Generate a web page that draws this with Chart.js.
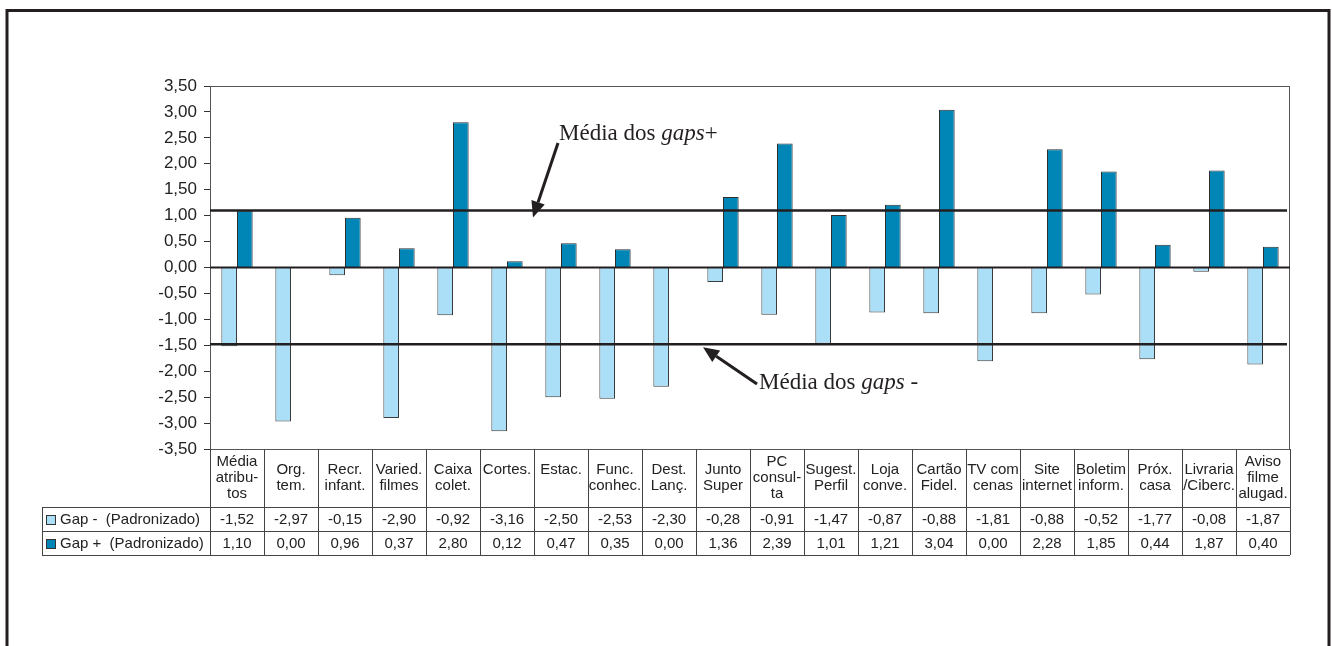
<!DOCTYPE html>
<html>
<head>
<meta charset="utf-8">
<script src="https://cdn.jsdelivr.net/npm/chart.js@4"></script>
<style>
  body { margin: 0; background: #fff; }
  canvas { display: block; }
</style>
</head>
<body>
<canvas id="gapChart" width="1332" height="646"></canvas>
<script>
// atributos (rótulos da tabela, com quebras de linha)
const categorias = [
    ['Média', 'atribu-', 'tos'], ['Org.', 'tem.'], ['Recr.', 'infant.'], ['Varied.', 'filmes'],
    ['Caixa', 'colet.'], ['Cortes.'], ['Estac.'], ['Func.', 'conhec.'], ['Dest.', 'Lanç.'],
    ['Junto', 'Super'], ['PC', 'consul-', 'ta'], ['Sugest.', 'Perfil'], ['Loja', 'conve.'],
    ['Cartão', 'Fidel.'], ['TV com', 'cenas'], ['Site', 'internet'], ['Boletim', 'inform.'],
    ['Próx.', 'casa'], ['Livraria', '/Ciberc.'], ['Aviso', 'filme', 'alugad.']
];
const gapNeg = [-1.52, -2.97, -0.15, -2.90, -0.92, -3.16, -2.50, -2.53, -2.30, -0.28,
                -0.91, -1.47, -0.87, -0.88, -1.81, -0.88, -0.52, -1.77, -0.08, -1.87];
const gapPos = [1.10, 0.00, 0.96, 0.37, 2.80, 0.12, 0.47, 0.35, 0.00, 1.36,
                2.39, 1.01, 1.21, 3.04, 0.00, 2.28, 1.85, 0.44, 1.87, 0.40];
const mediaGapPos = 1.10;
const mediaGapNeg = -1.48;
const yMin = -3.5, yMax = 3.5, yStep = 0.5;

const corClaro = '#abdff8';
const corEscuro = '#0085b7';
const corLinha = '#231f20';

function fmt(v) {
    return v.toFixed(2).replace('.', ',');
}

// moldura, linhas de média, setas e tabela de dados
const extras = {
    id: 'extras',
    beforeDraw(chart) {
        const ctx = chart.ctx;
        ctx.save();
        ctx.strokeStyle = corLinha;
        ctx.lineWidth = 3;
        ctx.beginPath();
        ctx.moveTo(7, 646);
        ctx.lineTo(7, 10.5);
        ctx.lineTo(1329, 10.5);
        ctx.lineTo(1329, 646);
        ctx.stroke();
        ctx.restore();
    },
    afterDatasetsDraw(chart) {
        const ctx = chart.ctx;
        const a = chart.chartArea;
        const y = chart.scales.y;
        const x = chart.scales.x;
        ctx.save();

        // caixa da área de plotagem
        ctx.strokeStyle = '#555';
        ctx.lineWidth = 1;
        ctx.strokeRect(a.left + 0.5, a.top + 0.5, a.right - a.left - 1, a.bottom - a.top);

        // linha do zero e médias
        ctx.strokeStyle = corLinha;
        ctx.lineWidth = 2;
        let y0 = y.getPixelForValue(0);
        ctx.beginPath(); ctx.moveTo(a.left, y0); ctx.lineTo(a.right, y0); ctx.stroke();
        ctx.lineWidth = 2.5;
        const yP = y.getPixelForValue(mediaGapPos);
        const yN = y.getPixelForValue(mediaGapNeg);
        ctx.beginPath(); ctx.moveTo(a.left, yP); ctx.lineTo(a.right - 3, yP); ctx.stroke();
        ctx.beginPath(); ctx.moveTo(a.left, yN); ctx.lineTo(a.right - 3, yN); ctx.stroke();

        // setas
        function seta(x1, y1, x2, y2) {
            const ang = Math.atan2(y2 - y1, x2 - x1);
            const len = 16, w = 7;
            const bx = x2 - len * Math.cos(ang), by = y2 - len * Math.sin(ang);
            ctx.strokeStyle = corLinha;
            ctx.fillStyle = corLinha;
            ctx.lineWidth = 3;
            ctx.beginPath(); ctx.moveTo(x1, y1); ctx.lineTo(bx, by); ctx.stroke();
            ctx.beginPath();
            ctx.moveTo(x2, y2);
            ctx.lineTo(bx + w * Math.sin(ang), by - w * Math.cos(ang));
            ctx.lineTo(bx - w * Math.sin(ang), by + w * Math.cos(ang));
            ctx.closePath();
            ctx.fill();
        }
        seta(558, 143, 533, yP + 7);
        seta(757, 384, 703, yN + 3);

        // textos das médias
        function rotulo(x0, base, fim) {
            ctx.fillStyle = corLinha;
            ctx.textBaseline = 'alphabetic';
            ctx.textAlign = 'left';
            ctx.font = '23px "Liberation Serif", "DejaVu Serif", serif';
            ctx.fillText('Média dos ', x0, base);
            let w = ctx.measureText('Média dos ').width;
            ctx.font = 'italic 23px "Liberation Serif", "DejaVu Serif", serif';
            ctx.fillText('gaps', x0 + w, base);
            w += ctx.measureText('gaps').width;
            ctx.font = '23px "Liberation Serif", "DejaVu Serif", serif';
            ctx.fillText(fim, x0 + w, base);
        }
        rotulo(559, 140, '+');
        rotulo(759, 389, ' -');

        // tabela de dados
        const colW = (a.right - a.left) / categorias.length;
        const tTop = a.bottom, r1 = 507, r2 = 531, r3 = 555, tLeft = 42;
        ctx.strokeStyle = '#444';
        ctx.lineWidth = 1;
        ctx.beginPath();
        for (let i = 0; i <= categorias.length; i++) {
            const cx = Math.round(a.left + i * colW) + 0.5;
            ctx.moveTo(cx, tTop); ctx.lineTo(cx, r3);
        }
        [r1, r2, r3].forEach(function(ry) {
            ctx.moveTo(tLeft, ry + 0.5); ctx.lineTo(a.right, ry + 0.5);
        });
        ctx.moveTo(tLeft + 0.5, r1); ctx.lineTo(tLeft + 0.5, r3);
        ctx.stroke();

        ctx.fillStyle = '#222';
        ctx.textAlign = 'center';
        ctx.textBaseline = 'middle';
        ctx.font = '15px "Liberation Sans", Arial, sans-serif';
        categorias.forEach(function(lbl, i) {
            const cx = x.getPixelForValue(i);
            const n = Math.max(lbl.length, 2);
            const topo = (tTop + r1) / 2 - (n - 1) * 8;
            lbl.forEach(function(t, k) {
                ctx.fillText(t, cx, topo + k * 16);
            });
            ctx.fillText(fmt(gapNeg[i]), cx, (r1 + r2) / 2 + 1);
            ctx.fillText(fmt(gapPos[i]), cx, (r2 + r3) / 2 + 1);
        });

        // legenda na tabela
        [[chart.data.datasets[0], (r1 + r2) / 2 + 1], [chart.data.datasets[1], (r2 + r3) / 2 + 1]].forEach(function(p) {
            ctx.fillStyle = p[0].backgroundColor;
            ctx.fillRect(46, p[1] - 5, 10, 10);
            ctx.strokeStyle = '#333';
            ctx.strokeRect(46.5, p[1] - 4.5, 9, 9);
            ctx.fillStyle = '#222';
            ctx.textAlign = 'left';
            ctx.fillText(p[0].label, 60, p[1]);
        });
        ctx.restore();
    }
};

new Chart(document.getElementById('gapChart'), {
    type: 'bar',
    data: {
        labels: categorias.map(function(c) { return c.join(' '); }),
        datasets: [
            {
                label: 'Gap -  (Padronizado)',
                data: gapNeg,
                backgroundColor: corClaro,
                borderColor: '#3c3c3c',
                borderWidth: 1
            },
            {
                label: 'Gap +  (Padronizado)',
                data: gapPos,
                backgroundColor: corEscuro,
                borderColor: '#2e2e2e',
                borderWidth: 1
            }
        ]
    },
    options: {
        responsive: false,
        animation: false,
        layout: { padding: { top: 86, right: 42, bottom: 197, left: 0 } },
        datasets: { bar: { categoryPercentage: 0.58, barPercentage: 1 } },
        scales: {
            x: { display: false },
            y: {
                min: yMin,
                max: yMax,
                afterFit: function(s) { s.width = 210; },
                ticks: {
                    stepSize: yStep,
                    padding: 7,
                    color: '#222',
                    font: { family: '"Liberation Sans", Arial, sans-serif', size: 17 },
                    callback: function(v) { return fmt(v); }
                },
                grid: { drawOnChartArea: false, drawTicks: true, tickLength: 6, color: '#333' },
                border: { display: true, color: '#333', width: 1 }
            }
        },
        plugins: {
            legend: { display: false },
            tooltip: { enabled: false }
        }
    },
    plugins: [extras]
});
</script>
</body>
</html>
